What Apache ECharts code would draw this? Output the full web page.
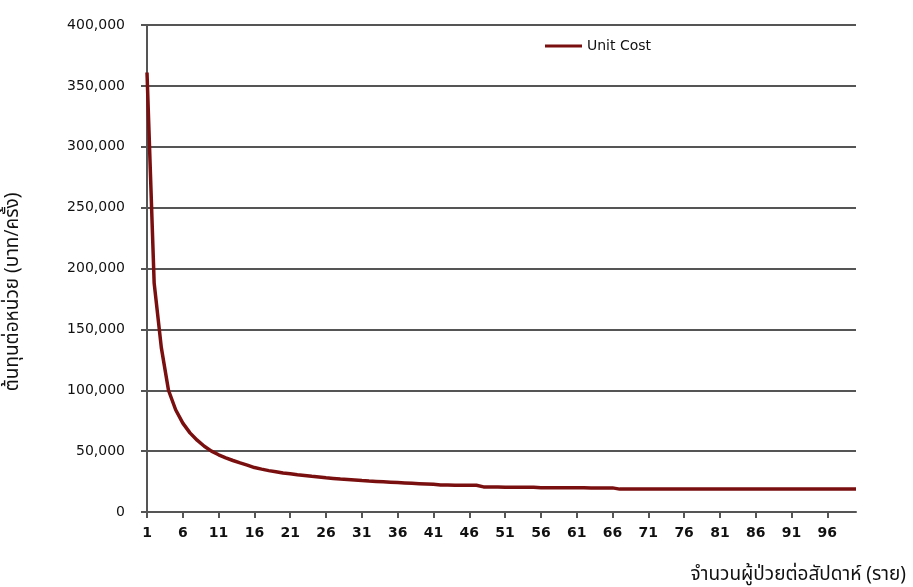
<!DOCTYPE html>
<html>
<head>
<meta charset="utf-8">
<script src="https://cdn.jsdelivr.net/npm/echarts@6/dist/echarts.min.js"></script>
<style>
html,body{margin:0;padding:0;background:#fff;}
#chart{width:913px;height:587px;}
</style>
</head>
<body>
<div id="chart"></div>
<script>
// Categories: patients per week (1..100)
var categories = [];
for (var i = 1; i <= 100; i++) categories.push(String(i));

// Unit cost values (baht per visit)
var unitCost = [
  361000, 188000, 135000, 100000, 84000, 73000, 65000, 59000, 54000, 50000,
  47000, 44500, 42300, 40300, 38500, 36500, 35200, 34000, 33000, 32000,
  31400, 30600, 30000, 29300, 28700, 28100, 27600, 27100, 26700, 26300,
  25800, 25400, 25100, 24800, 24500, 24200, 23900, 23600, 23300, 23000,
  22700, 22200, 22100, 22000, 22000, 22000, 22000, 20600, 20500, 20500,
  20400, 20400, 20400, 20300, 20300, 20000, 19900, 19900, 19900, 19900,
  19900, 19900, 19800, 19800, 19800, 19800, 18800, 18800, 18800, 18800,
  18800, 18800, 18800, 18800, 18800, 18800, 18800, 18800, 18800, 18800,
  18800, 18800, 18800, 18800, 18800, 18800, 18800, 18800, 18800, 18800,
  18800, 18800, 18800, 18800, 18800, 18800, 18800, 18800, 18800, 18800
];

var seriesName = 'Unit Cost';
var yTitle = 'ต้นทุนต่อหน่วย (บาท/ครั้ง)';
var xTitle = 'จำนวนผู้ป่วยต่อสัปดาห์ (ราย)';

var chart = echarts.init(document.getElementById('chart'), null, {renderer: 'canvas'});
var gridColor = '#555555';
var thaiFont = '"Noto Sans Thai", "Noto Sans", "DejaVu Sans", sans-serif';

chart.setOption({
  animation: false,
  backgroundColor: '#ffffff',
  grid: {left: 147, right: 57, top: 25, bottom: 75, containLabel: false},
  legend: {
    data: [seriesName],
    left: 540, top: 34,
    icon: 'rect',
    itemWidth: 37, itemHeight: 3, itemGap: 4,
    textStyle: {fontFamily: 'DejaVu Sans', fontSize: 14, color: '#111'}
  },
  xAxis: {
    type: 'category',
    data: categories,
    boundaryGap: false,
    axisLine: {show: true, lineStyle: {color: gridColor, width: 2}},
    axisTick: {show: true, interval: 4, length: 6, lineStyle: {color: gridColor, width: 2}},
    axisLabel: {interval: 4, margin: 14, fontFamily: 'DejaVu Sans', fontWeight: 'bold', fontSize: 14, color: '#111'},
    splitLine: {show: false}
  },
  yAxis: {
    type: 'value',
    min: 0, max: 400000, interval: 50000,
    axisLine: {show: true, lineStyle: {color: gridColor, width: 2}},
    axisTick: {show: true, length: 6, lineStyle: {color: gridColor, width: 2}},
    axisLabel: {
      margin: 22, fontFamily: 'DejaVu Sans', fontSize: 14, color: '#111',
      formatter: function (v) { return v.toString().replace(/\B(?=(\d{3})+(?!\d))/g, ','); }
    },
    splitLine: {show: true, lineStyle: {color: gridColor, width: 2}}
  },
  graphic: [
    {
      type: 'text', x: 14, y: 292, rotation: Math.PI / 2,
      style: {text: yTitle, fontFamily: thaiFont, fontSize: 19, fill: '#111',
              textAlign: 'center', textVerticalAlign: 'middle'}
    },
    {
      type: 'text', x: 906, y: 576,
      style: {text: xTitle, fontFamily: thaiFont, fontSize: 19, fill: '#111',
              textAlign: 'right', textVerticalAlign: 'middle'}
    }
  ],
  series: [{
    name: seriesName,
    type: 'line',
    data: unitCost,
    showSymbol: false,
    symbol: 'none',
    lineStyle: {color: '#7a0f0f', width: 3.5},
    itemStyle: {color: '#7a0f0f'}
  }]
});
</script>
</body>
</html>
